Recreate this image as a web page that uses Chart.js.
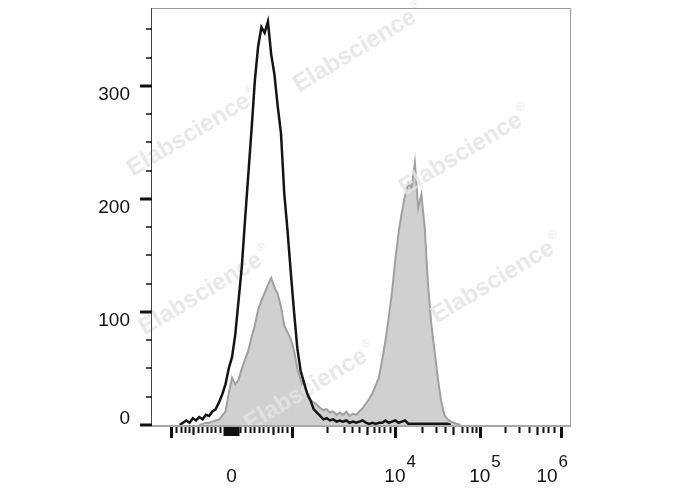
<!DOCTYPE html>
<html>
<head>
<meta charset="utf-8">
<script src="https://cdn.jsdelivr.net/npm/chart.js@4.4.0/dist/chart.umd.min.js"></script>
<style>
  html, body { margin: 0; padding: 0; background: #fff; }
</style>
</head>
<body>
<canvas id="histChart" width="688" height="490"></canvas>
<script>
// display channels 0..1024 (biexponential axis), histogram bins of 8 channels
const BIN_WIDTH = 8;
const X_MAX = 1024;
const Y_MAX = 369;

// control (black outline)
const CONTROL_START_BIN = 8;
const CONTROL_COUNTS = [
    0, 2, 4, 2, 6, 4, 7, 5, 9, 8,
    12, 14, 20, 27, 36, 50, 60, 80, 110, 140,
    182, 222, 262, 305, 335, 352, 347, 357, 328, 310,
    282, 258, 205, 172, 135, 100, 68, 48, 38, 28,
    22, 14, 11, 8, 5, 6, 4, 5, 3, 4,
    3, 4, 2, 3, 2, 3, 4, 2, 1, 2,
    1, 2, 2, 4, 2, 3, 4, 2, 3, 4,
    1, 1, 1, 1, 1, 1, 1, 1, 1, 1,
    1, 1, 1, 0
];

// stained sample (grey filled)
const STAINED_START_BIN = 14;
const STAINED_COUNTS = [
    0, 1, 2, 2, 3, 4, 5, 8, 12, 28,
    42, 36, 40, 50, 58, 66, 78, 88, 102, 110,
    117, 124, 130, 122, 116, 105, 88, 82, 76, 66,
    50, 40, 32, 26, 22, 20, 18, 15, 13, 14,
    11, 12, 9, 11, 9, 12, 8, 10, 9, 12,
    15, 19, 23, 28, 35, 42, 58, 75, 95, 118,
    146, 170, 188, 203, 214, 210, 232, 192, 204, 175,
    125, 90, 66, 42, 22, 9, 5, 3, 2, 1,
    0
];

const Y_MAJOR_TICKS = [0, 100, 200, 300];
const Y_MINOR_TICKS = [25, 50, 75, 125, 150, 175, 225, 250, 275, 325, 350];

const X_MAJOR_TICKS = [46, 344, 595, 803, 1003];
const X_MEDIUM_TICKS = [101, 297, 527, 738, 944];
const X_MINOR_TICKS = [
    60, 70, 80, 91, 112, 123, 134, 144, 154, 167,
    216, 229, 240, 251, 262, 273, 283, 309, 318, 330,
    428, 470, 491, 507, 544, 557, 569, 582,
    661, 696, 718, 760, 772, 783, 793,
    865, 900, 924, 959, 971, 984
];
// dense ticks around zero that merge into a block
const X_ZERO_BLOCK_TICKS = [176, 178, 180, 182, 184, 186, 188, 190, 192, 194, 196, 198, 200, 202, 204, 206, 208, 210];

const X_LABEL_VALUES = [195, 595, 803, 1003];
const X_LABEL_BASES = ['0', '10', '10', '10'];
const X_LABEL_EXPONENTS = ['', '4', '5', '6'];

const WATERMARK_TEXT = 'Elabscience';
const WATERMARK_SPOTS = [[360, 48], [194, 132], [466, 151], [206, 291], [498, 279], [311, 387]];

const FONT = '"Liberation Sans", Arial, Helvetica, sans-serif';

function toPoints(startBin, counts) {
    return counts.map((c, i) => ({ x: (startBin + i) * BIN_WIDTH + BIN_WIDTH / 2, y: c }));
}

const watermarkPlugin = {
    id: 'watermark',
    afterDatasetDraw(chart, args) {
        if (args.index !== 1) return;
        const ctx = chart.ctx;
        ctx.save();
        ctx.fillStyle = 'rgba(228, 228, 228, 0.85)';
        WATERMARK_SPOTS.forEach(([cx, cy]) => {
            ctx.save();
            ctx.translate(cx, cy);
            ctx.rotate(-31 * Math.PI / 180);
            ctx.font = 'bold 24px ' + FONT;
            const w = ctx.measureText(WATERMARK_TEXT).width;
            ctx.textBaseline = 'middle';
            ctx.fillText(WATERMARK_TEXT, -w / 2 - 6, 0);
            ctx.font = '11px ' + FONT;
            ctx.fillText('®', w / 2 - 4, -9);
            ctx.restore();
        });
        ctx.restore();
    }
};

const axesPlugin = {
    id: 'flowAxes',
    afterDraw(chart) {
        const { ctx, chartArea: a, scales: { x, y } } = chart;
        ctx.save();

        // frame
        ctx.lineWidth = 1;
        ctx.strokeStyle = '#9a9a9a';
        ctx.beginPath();
        ctx.moveTo(a.left, a.top + 0.5); ctx.lineTo(a.right + 0.5, a.top + 0.5);
        ctx.lineTo(a.right + 0.5, a.bottom);
        ctx.stroke();
        ctx.strokeStyle = '#444';
        ctx.beginPath();
        ctx.moveTo(a.left - 0.5, a.top); ctx.lineTo(a.left - 0.5, a.bottom + 1);
        ctx.stroke();
        ctx.strokeStyle = '#a8a8a8';
        ctx.lineWidth = 2;
        ctx.beginPath();
        ctx.moveTo(a.left, a.bottom + 1); ctx.lineTo(a.right + 1, a.bottom + 1);
        ctx.stroke();

        // y ticks
        ctx.strokeStyle = '#111';
        const yTick = (v, len, w) => {
            const py = Math.round(y.getPixelForValue(v));
            ctx.lineWidth = w;
            ctx.beginPath();
            ctx.moveTo(a.left - len, py); ctx.lineTo(a.left, py);
            ctx.stroke();
        };
        Y_MINOR_TICKS.forEach(v => yTick(v, 6, 1.5));
        Y_MAJOR_TICKS.forEach(v => yTick(v, 12, 3));

        ctx.fillStyle = '#111';
        ctx.font = '19px ' + FONT;
        ctx.textAlign = 'right';
        ctx.textBaseline = 'alphabetic';
        Y_MAJOR_TICKS.forEach(v => {
            const py = y.getPixelForValue(v);
            ctx.fillText(String(v), a.left - 22, Math.min(py + 14, a.bottom - 1));
        });

        // x ticks
        const xTick = (v, len, w) => {
            const px = Math.round(x.getPixelForValue(v)) + 0.5;
            ctx.lineWidth = w;
            ctx.beginPath();
            ctx.moveTo(px, a.bottom + 2); ctx.lineTo(px, a.bottom + 2 + len);
            ctx.stroke();
        };
        X_MINOR_TICKS.forEach(v => xTick(v, 6, 2));
        X_ZERO_BLOCK_TICKS.forEach(v => xTick(v, 9, 2));
        X_MEDIUM_TICKS.forEach(v => xTick(v, 8, 2.2));
        X_MAJOR_TICKS.forEach(v => xTick(v, 11, 3));

        // x labels with superscript exponents
        ctx.textAlign = 'left';
        X_LABEL_VALUES.forEach((v, i) => {
            const base = X_LABEL_BASES[i], exp = X_LABEL_EXPONENTS[i];
            ctx.font = '19px ' + FONT;
            const bw = ctx.measureText(base).width;
            ctx.font = '17px ' + FONT;
            const ew = exp ? ctx.measureText(exp).width + 1 : 0;
            let left = x.getPixelForValue(v) - bw / 2;
            if (left + bw + ew > a.right - 2) left = a.right - 2 - bw - ew;
            ctx.font = '19px ' + FONT;
            ctx.fillText(base, left, a.bottom + 57);
            if (exp) {
                ctx.font = '17px ' + FONT;
                ctx.fillText(exp, left + bw + 1, a.bottom + 42);
            }
        });

        ctx.restore();
    }
};

new Chart(document.getElementById('histChart'), {
    type: 'line',
    data: {
        datasets: [
            {
                label: 'Control',
                data: toPoints(CONTROL_START_BIN, CONTROL_COUNTS),
                borderColor: '#141414',
                borderWidth: 2.5,
                pointRadius: 0,
                fill: false,
                tension: 0
            },
            {
                label: 'Stained',
                data: toPoints(STAINED_START_BIN, STAINED_COUNTS),
                borderColor: '#a0a0a0',
                backgroundColor: '#d0d0d0',
                borderWidth: 2,
                pointRadius: 0,
                fill: 'origin',
                tension: 0
            }
        ]
    },
    options: {
        responsive: false,
        animation: false,
        layout: { padding: { left: 152, right: 118, top: 8, bottom: 65 } },
        plugins: { legend: { display: false }, tooltip: { enabled: false } },
        scales: {
            x: { type: 'linear', min: 0, max: X_MAX, display: false },
            y: { min: 0, max: Y_MAX, display: false }
        }
    },
    plugins: [watermarkPlugin, axesPlugin]
});
</script>
</body>
</html>
